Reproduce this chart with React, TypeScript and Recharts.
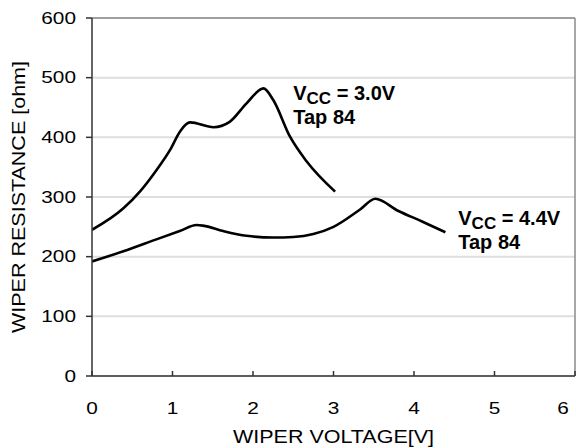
import React from "react"
import {
  ComposedChart,
  Line,
  XAxis,
  YAxis,
  CartesianGrid,
  ReferenceLine,
  ReferenceDot,
} from "recharts"

// wiper voltage [V] -> wiper resistance [ohm]
const vcc30 = [
  { v: 0, r: 245 },
  { v: 0.39, r: 281 },
  { v: 0.6, r: 310 },
  { v: 0.8, r: 345 },
  { v: 0.97, r: 379 },
  { v: 1.09, r: 409 },
  { v: 1.18, r: 423 },
  { v: 1.22, r: 425 },
  { v: 1.51, r: 417 },
  { v: 1.71, r: 426 },
  { v: 1.92, r: 457 },
  { v: 2.13, r: 482 },
  { v: 2.25, r: 463 },
  { v: 2.46, r: 401 },
  { v: 2.67, r: 359 },
  { v: 3.02, r: 309 },
]

const vcc44 = [
  { v: 0, r: 192 },
  { v: 0.39, r: 209 },
  { v: 0.8, r: 229 },
  { v: 1.09, r: 243 },
  { v: 1.3, r: 253 },
  { v: 1.38, r: 252 },
  { v: 1.63, r: 243 },
  { v: 1.92, r: 235 },
  { v: 2.25, r: 232 },
  { v: 2.5, r: 233 },
  { v: 2.75, r: 238 },
  { v: 3.0, r: 250 },
  { v: 3.33, r: 279 },
  { v: 3.52, r: 297 },
  { v: 3.8, r: 277 },
  { v: 4.1, r: 259 },
  { v: 4.39, r: 241 },
]

const xTicks = [0, 1, 2, 3, 4, 5, 6]
const yTicks = [0, 100, 200, 300, 400, 500, 600]

// annotation anchors (left edge / baseline of first line)
const notes = [
  { v: 2.5, r: 463, text: "3.0V" },
  { v: 4.55, r: 253, text: "4.4V" },
]

const font = "Arial, 'Liberation Sans', sans-serif"

const XTick = (p: any) => (
  <text
    transform={`translate(${Math.min(p.x, 563)},${p.y + 43}) scale(1.3,1)`}
    textAnchor="middle"
    fontSize={16}
    fontFamily={font}
    fill="#000">
    {p.payload.value}
  </text>
)

const YTick = (p: any) => (
  <text
    transform={`translate(${p.x},${p.y + 5.7}) scale(1.3,1)`}
    textAnchor="end"
    fontSize={16}
    fontFamily={font}
    fill="#000">
    {p.payload.value}
  </text>
)

function XTitle(p: any) {
  const vb = p.viewBox
  return (
    <text
      x={vb.x + vb.width / 2}
      y={vb.y + 67}
      textAnchor="middle"
      fontSize={18}
      fontFamily={font}
      textLength={201}
      lengthAdjust="spacingAndGlyphs"
      fill="#000">
      WIPER VOLTAGE[V]
    </text>
  )
}

function YTitle(p: any) {
  const vb = p.viewBox
  const cy = vb.y + vb.height / 2
  return (
    <text
      transform={`translate(25,${cy}) rotate(-90)`}
      textAnchor="middle"
      fontSize={18}
      fontFamily={font}
      textLength={272}
      lengthAdjust="spacingAndGlyphs"
      fill="#000">
      WIPER RESISTANCE [ohm]
    </text>
  )
}

const Note = ({ cx, cy, text }: any) => (
  <text x={cx} y={cy} fontFamily={font} fontWeight="bold" fontSize={20} fill="#000">
    <tspan>V</tspan>
    <tspan fontSize={17} dy={4}>CC</tspan>
    <tspan dy={-4}>{` = ${text}`}</tspan>
    <tspan x={cx} dy={24}>Tap 84</tspan>
  </text>
)

export default function App() {
  return (
    <div style={{ position: "absolute", left: 0, top: 0, background: "#fff" }}>
      <ComposedChart
        width={576}
        height={448}
        margin={{ top: 18, right: 1, left: 0, bottom: 0 }}>
        <CartesianGrid horizontal vertical={false} stroke="#dedede" strokeWidth={2} />
        <ReferenceLine y={600} stroke="#8a8a8a" strokeWidth={1.5} />
        <ReferenceLine x={6} stroke="#8a8a8a" strokeWidth={1.5} />
        <XAxis
          type="number"
          dataKey="v"
          domain={[0, 6]}
          ticks={xTicks}
          height={72}
          tickSize={-5}
          tickMargin={0}
          stroke="#333"
          strokeWidth={1.5}
          tick={<XTick />}
          label={<XTitle />}
          allowDataOverflow
        />
        <YAxis
          type="number"
          domain={[0, 600]}
          ticks={yTicks}
          width={92}
          tickSize={6}
          tickMargin={10}
          stroke="#333"
          strokeWidth={1.5}
          tick={<YTick />}
          label={<YTitle />}
          allowDataOverflow
        />
        <Line
          data={vcc30}
          dataKey="r"
          type="monotone"
          stroke="#000"
          strokeWidth={2.6}
          dot={false}
          isAnimationActive={false}
        />
        <Line
          data={vcc44}
          dataKey="r"
          type="monotone"
          stroke="#000"
          strokeWidth={2.6}
          dot={false}
          isAnimationActive={false}
        />
        {notes.map((n) => (
          <ReferenceDot
            key={n.text}
            x={n.v}
            y={n.r}
            r={1}
            shape={(p: any) => <Note cx={p.cx} cy={p.cy} text={n.text} />}
          />
        ))}
      </ComposedChart>
    </div>
  )
}
